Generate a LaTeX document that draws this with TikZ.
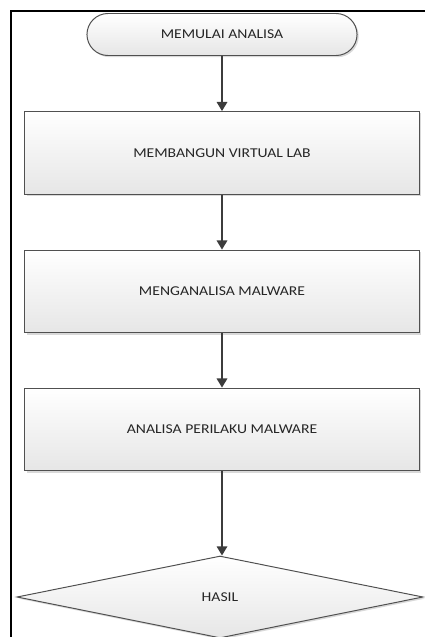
\documentclass[tikz,border=0pt]{standalone}
\usepackage{fontspec}
\setmainfont{Carlito}[FakeStretch=1.16]
\usetikzlibrary{arrows.meta,shapes.misc,shapes.geometric,shadows}
\definecolor{edgegray}{HTML}{505050}
\definecolor{arrowgray}{HTML}{3C3C3C}
\definecolor{txtgray}{HTML}{262626}
\definecolor{fillbot}{HTML}{E6E6E6}
\tikzset{
  shape base/.style={draw=edgegray, line width=0.7pt, top color=white, bottom color=fillbot,
    text=txtgray, font=\fontsize{9.6}{11}\selectfont, inner sep=0pt,
    drop shadow={shadow xshift=1.2pt, shadow yshift=-1.2pt, fill=black!25, opacity=0.6}},
  terminal/.style={shape base, rounded rectangle, minimum width=6.75cm, minimum height=1.05cm},
  process/.style={shape base, rectangle, minimum width=9.85cm, minimum height=2.07cm},
  decision/.style={shape base, diamond, minimum width=10.15cm, minimum height=2.05cm},
  flow/.style={draw=arrowgray, line width=1.1pt, -{Triangle[width=7.5pt,length=6.5pt]}}
}
\begin{document}
\begin{tikzpicture}[x=0.025cm, y=-0.025cm]
    \useasboundingbox (0,0) rectangle (424,637);
    \draw[line width=1.6pt, black] (11,650) -- (11,11) -- (440,11);
    \node[terminal] (start) at (222,34.5) {MEMULAI ANALISA};
    \node[process] (lab) at (222,153) {MEMBANGUN VIRTUAL LAB};
    \node[process] (analisa) at (222,291.5) {MENGANALISA MALWARE};
    \node[process] (perilaku) at (222,429.5) {ANALISA PERILAKU MALWARE};
    \node[decision] (hasil) at (220,597) {HASIL};
    \draw[flow] (start) -- (lab);
    \draw[flow] (lab) -- (analisa);
    \draw[flow] (analisa) -- (perilaku);
    \draw[flow] (perilaku.south) -- (perilaku.south |- hasil.north);
\end{tikzpicture}
\end{document}
